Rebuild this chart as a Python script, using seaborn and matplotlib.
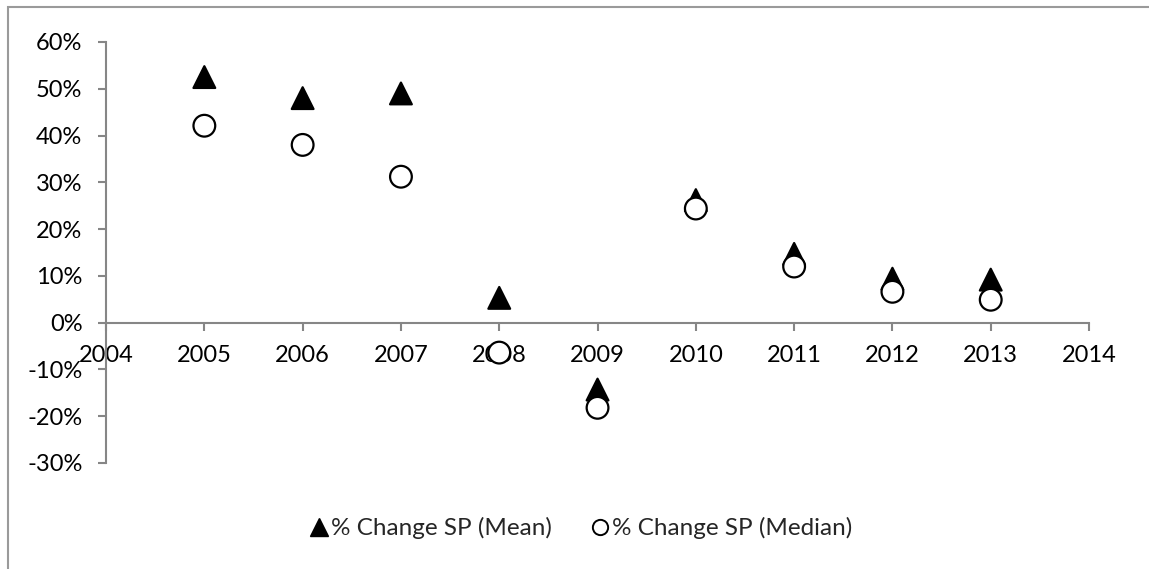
import pandas as pd
import numpy as np
import matplotlib
matplotlib.use('Agg')
import matplotlib.pyplot as plt
import seaborn as sns
from matplotlib.ticker import FuncFormatter
from matplotlib.patches import Rectangle

years = [2005, 2006, 2007, 2008, 2009, 2010, 2011, 2012, 2013]
mean_change = [0.525, 0.48, 0.49, 0.053, -0.143, 0.262, 0.147, 0.094, 0.092]
median_change = [0.421, 0.38, 0.312, -0.064, -0.182, 0.244, 0.12, 0.066, 0.049]

df = pd.concat([
    pd.DataFrame({'year': years, 'change': mean_change, 'series': '% Change SP (Mean)'}),
    pd.DataFrame({'year': years, 'change': median_change, 'series': '% Change SP (Median)'}),
])

sns.set_style('white')
plt.rcParams['font.family'] = ['Lato', 'DejaVu Sans']

fig = plt.figure(figsize=(11.49, 5.69), dpi=100)
ax = fig.add_axes([0.0923, 0.1863, 0.8555, 0.7399])

sns.scatterplot(data=df, x='year', y='change', style='series', hue='series',
                markers={'% Change SP (Mean)': '^', '% Change SP (Median)': 'o'},
                palette={'% Change SP (Mean)': 'black', '% Change SP (Median)': 'white'},
                s=245, edgecolor='black', linewidth=1.6, ax=ax, legend=False, zorder=3)

ax.set_xlim(2004, 2014)
ax.set_ylim(-0.3, 0.6)
ax.set_xticks(range(2004, 2015))
ax.set_yticks(np.arange(-0.3, 0.61, 0.1))
ax.yaxis.set_major_formatter(FuncFormatter(lambda v, p: f'{round(v * 100):d}%'))
ax.set_xlabel('')
ax.set_ylabel('')

for s in ['top', 'right']:
    ax.spines[s].set_visible(False)
ax.spines['bottom'].set_position(('data', 0))
for s in ['left', 'bottom']:
    ax.spines[s].set_color('#868686')
    ax.spines[s].set_linewidth(1.5)
ax.tick_params(axis='both', direction='out', length=6, width=1.5, color='#868686',
               labelsize=17, labelcolor='black')
ax.tick_params(axis='y', pad=11)
ax.tick_params(axis='x', pad=10)
ax.tick_params(left=True, bottom=True)

# legend at bottom
handles = [
    plt.Line2D([], [], marker='^', linestyle='', color='black', markersize=13),
    plt.Line2D([], [], marker='o', linestyle='', markerfacecolor='white',
               markeredgecolor='black', markeredgewidth=1.4, markersize=11),
]
fig.legend(handles, ['% Change SP (Mean)', '% Change SP (Median)'],
           loc='center', bbox_to_anchor=(0.506, 0.072), ncol=2, frameon=False,
           fontsize=17.5, handlelength=0.7, handletextpad=0.15, columnspacing=1.6)

# outer chart border
fig.patches.append(Rectangle((0.007, -0.05), 1.1, 1.038, transform=fig.transFigure,
                             fill=False, edgecolor='#9a9a9a', linewidth=1.5))

fig.savefig('out.png', dpi=100)
